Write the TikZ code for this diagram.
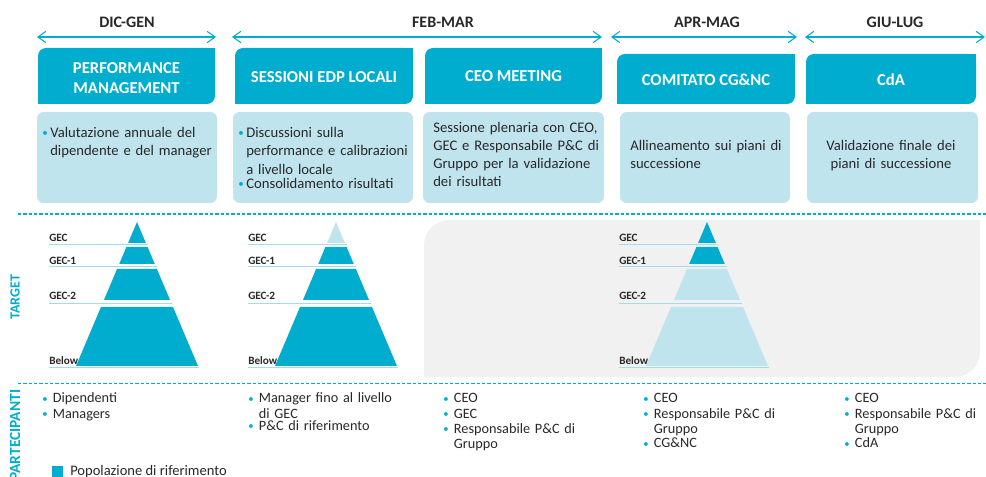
\documentclass[tikz,border=0pt]{standalone}
\usepackage{fontspec}
\setmainfont{Carlito}
\usetikzlibrary{arrows.meta,positioning}

\definecolor{enteal}{RGB}{0,173,206}
\definecolor{enlight}{RGB}{192,228,238}
\definecolor{engrey}{RGB}{241,241,241}
\definecolor{enline}{RGB}{165,218,233}
\definecolor{entext}{RGB}{40,40,40}

% bullet item with hanging text
\newcommand\blt[2][6pt]{\par\noindent\strut\hbox to #1{\textcolor{enteal}{\raisebox{0.4pt}{\scalebox{0.75}{\textbullet}}}\hss}\parbox[t]{150pt}{\raggedright #2}}

% one band of a pyramid: apex x, top y, bottom y, colour
\newcommand\pyrseg[4]{\fill[#4] ({#1-\pk*(#2-222)},#2) -- ({#1+\pk*(#2-222)},#2) -- ({#1+\pk*(#3-222)},#3) -- ({#1-\pk*(#3-222)},#3) -- cycle;}

% whole pyramid: apex x, four colours, name
\newcommand\pyramid[6]{
  \pyrseg{#1}{222}{243}{#2}
  \pyrseg{#1}{247}{264}{#3}
  \pyrseg{#1}{269}{300}{#4}
  \pyrseg{#1}{307}{366}{#5}
  \draw[levelline] ({#1-88},244) -- ({#1+\pk*22+2},244);
  \draw[levelline] ({#1-88},266) -- ({#1+\pk*44+1},266);
  \draw[levelline] ({#1-88},303) -- ({#1+\pk*81+1},303);
  \draw[levelline] ({#1-88},367) -- ({#1+\pk*145+1},367);
  \node[levellabel] (#6-gec) at ({#1-88},242) {GEC};
  \node[levellabel] (#6-gec1) at ({#1-88},264.5) {GEC-1};
  \node[levellabel] (#6-gec2) at ({#1-88},300) {GEC-2};
  \node[levellabel] (#6-below) at ({#1-88},364.5) {Below};
}

\begin{document}
\begin{tikzpicture}[x=0.75pt,y=-0.75pt,
  periodarrow/.style={draw=enteal,line width=0.8pt,{Straight Barb[length=6pt,width=8.5pt]}-{Straight Barb[length=6pt,width=8.5pt]}},
  monthlabel/.style={font=\fontsize{12}{14}\selectfont\bfseries,text=entext},
  headtext/.style={font=\fontsize{12.5}{15}\selectfont\bfseries,text=white,align=center},
  desctext/.style={font=\fontsize{11}{13.7}\selectfont,text=entext,anchor=north west,inner sep=0pt,text width=160pt,align=left},
  partlist/.style={font=\fontsize{10.7}{11.4}\selectfont,text=entext,anchor=north west,inner sep=0pt,text width=160pt,align=left},
  levellabel/.style={font=\fontsize{8.4}{9}\selectfont\bfseries,text=entext,anchor=base west,inner sep=0pt},
  levelline/.style={draw=enline,line width=0.6pt},
  sectionline/.style={draw=enteal,line width=1pt,dash pattern=on 2.5pt off 1.5pt},
  sidetitle/.style={font=\fontsize{10.5}{12}\selectfont\bfseries,text=enteal,rotate=90}]

\useasboundingbox (0,0) rectangle (986,477);

\def\pk{0.4236}

% periods
\foreach \a/\b/\c/\l/\n in {37/216/127/DIC-GEN/dg, 232/602/443/FEB-MAR/fm, 611/797/707/APR-MAG/am, 805/985/895/GIU-LUG/gl}{
  \coordinate (\n-l) at (\a,37);
  \coordinate (\n-r) at (\b,37);
  \draw[periodarrow] (\n-l) -- (\n-r);
  \node[monthlabel] (\n) at (\c,22) {\l};
}

% header boxes
\foreach \a/\b/\t in {38/215/48, 235/413/48, 425/602/48, 617/795/54, 806/976/54}{
  \fill[enteal,rounded corners=6pt] (\a,\t) rectangle (\b,104);
  \fill[enteal] (\b-12,\t) rectangle (\b,\t+12);
  \fill[enteal] (\a,92) rectangle (\a+12,104);
}

\node[headtext] (perf) at (126.5,78) {PERFORMANCE\\MANAGEMENT};
\node[headtext] (edp) at (324,77) {SESSIONI EDP LOCALI};
\node[headtext] (ceo) at (513.5,76) {CEO MEETING};
\node[headtext] (cgnc) at (706,80) {COMITATO CG\&NC};
\node[headtext] (cda) at (891,80) {CdA};

% description boxes
\foreach \a/\b in {37/217, 233/413, 423/604, 620/790, 807/978}
  \fill[enlight,rounded corners=5pt] (\a,112) rectangle (\b,203);

\node[desctext] (d1) at (42,119) {\blt{Valutazione annuale del\\dipendente e del manager}};
\node[desctext] (d2) at (238,119) {\blt{Discussioni sulla\\performance e calibrazioni\\a livello locale}\blt{Consolidamento risultati}};
\node[desctext] (d3) at (433,119) {\strut Sessione plenaria con CEO,\\GEC e Responsabile P\&C di\\Gruppo per la validazione\\dei risultati};
\node[desctext] (d4) at (630,137) {\strut Allineamento sui piani di\\successione};
\node[desctext,anchor=north,align=center] (d5) at (891,137) {\strut Validazione finale dei\\piani di successione};

% section lines
\coordinate (s1a) at (18,214);
\coordinate (s1b) at (986,214);
\coordinate (s2a) at (18,383.5);
\coordinate (s2b) at (986,383.5);
\draw[sectionline] (s1a) -- (s1b);
\draw[sectionline] (s2a) -- (s2b);

\node[sidetitle] (target) at (15,297) {TARGET};
\node[sidetitle,anchor=east,font=\fontsize{11.6}{13}\selectfont\bfseries] (partec) at (15,385) {PARTECIPANTI};

% target pyramids
\fill[engrey,rounded corners=19pt] (424,220) rectangle (980,377);
\fill[engrey] (950,220) rectangle (980,250);
\fill[engrey] (424,347) rectangle (454,377);

\pyramid{137}{enteal}{enteal}{enteal}{enteal}{py1}
\pyramid{336}{enlight}{enteal}{enteal}{enteal}{py2}
\pyramid{707}{enteal}{enteal}{enlight}{enlight}{py3}

% participants
\node[partlist] (p1) at (42,387.5) {\blt[8pt]{Dipendenti}\blt[8pt]{Managers}};
\node[partlist] (p2) at (248,387.5) {\blt[8pt]{Manager fino al livello\\di GEC}\blt[8pt]{P\&C di riferimento}};
\node[partlist] (p3) at (443,387.5) {\blt[8pt]{CEO}\blt[8pt]{GEC}\blt[8pt]{Responsabile P\&C di\\Gruppo}};
\node[partlist] (p4) at (643,387.5) {\blt[8pt]{CEO}\blt[8pt]{Responsabile P\&C di\\Gruppo}\blt[8pt]{CG\&NC}};
\node[partlist] (p5) at (844,387.5) {\blt[8pt]{CEO}\blt[8pt]{Responsabile P\&C di\\Gruppo}\blt[8pt]{CdA}};

% legend
\fill[enteal] (52,466) rectangle (63,478);
\node[anchor=base west,inner sep=0pt,font=\fontsize{10.9}{12}\selectfont,text=entext] (legend) at (70,475.5) {Popolazione di riferimento};

\end{tikzpicture}
\end{document}
